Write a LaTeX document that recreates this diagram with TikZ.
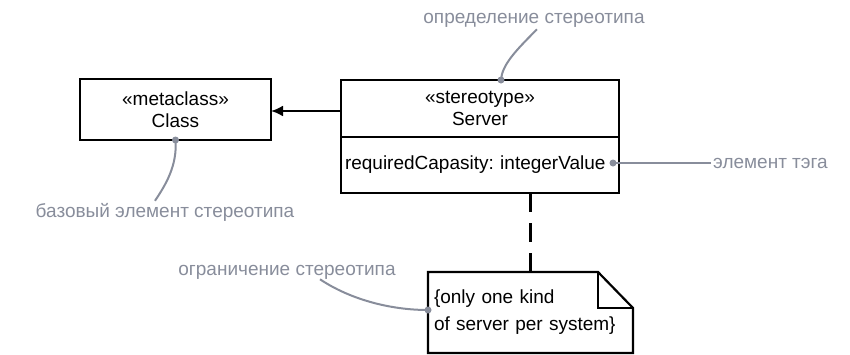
\documentclass[tikz,border=0pt]{standalone}
\usepackage{fontspec}
\setmainfont{Liberation Sans}
\frenchspacing
\usetikzlibrary{positioning,arrows.meta}
\definecolor{remarkgray}{RGB}{136,141,155}
\tikzset{
  umlbox/.style={draw, line width=2.2pt, align=center, inner sep=3pt, outer sep=0pt,
    font=\fontsize{19}{22}\selectfont},
  remark/.style={text=remarkgray, inner sep=2pt, font=\fontsize{19}{22}\selectfont},
  remarkline/.style={draw=remarkgray, line width=2pt},
  remarkdot/.style={fill=remarkgray}
}
\begin{document}
\begin{tikzpicture}[x=1pt,y=-1pt]
            \useasboundingbox (0,0) rectangle (850,354);

            % Třídy
            \node[umlbox, minimum width=191, minimum height=61] (metaclass) at (175.5,109.5) {«metaclass»\\Class};
            \node[umlbox, minimum width=278, minimum height=57] (stereohead) at (480,108.5) {«stereotype»\\Server};
            \node[umlbox, minimum width=278, minimum height=56, anchor=north, align=left, text width=270] (stereoattr) at (stereohead.south) {requiredCapasity: integerValue};

            % Poznámka
            \node[minimum width=205, minimum height=81, inner sep=6pt, outer sep=0pt, align=left, text width=193,
                  font=\fontsize{19}{27}\selectfont] (constraint) at (530.5,312.5) {\{only one kind\\of server per system\}};
            \draw[line width=2.2pt] (constraint.north west) -- ([xshift=-35pt]constraint.north east)
                -- ([yshift=-36pt]constraint.north east) -- (constraint.south east) -- (constraint.south west) -- cycle;
            \draw[line width=2.2pt] ([xshift=-35pt]constraint.north east) |- ([yshift=-36pt]constraint.north east);

            % Spojnice
            \draw[line width=2.2pt, -{Latex[length=12pt,width=11pt]}] ([yshift=-2.5pt]stereohead.west) -- ([yshift=-2.5pt]stereohead.west -| metaclass.east);
            \draw[line width=2.2pt, dash pattern=on 19pt off 11pt] (stereoattr.south -| constraint.north) -- (constraint.north);

            % Popisky
            \node[remark] (lbldef) at (534,20) {определение стереотипа};
            \node[remark] (lblbase) at (165,212) {базовый элемент стереотипа};
            \node[remark, anchor=west] (lbltag) at (711,163) {элемент тэга};
            \node[remark] (lblconstr) at (287,272) {ограничение стереотипа};

            \coordinate (defpt) at ([xshift=21pt]stereohead.north);
            \coordinate (basept) at (metaclass.south);
            \coordinate (tagpt) at ([xshift=-6pt,yshift=2pt]stereoattr.east);
            \coordinate (constrpt) at ([yshift=2.5pt]constraint.west);

            \draw[remarkline] ([xshift=3pt]lbldef.south) .. controls +(-22,22) and +(1,-15) .. (defpt);
            \draw[remarkline] ([xshift=-10pt]lblbase.north) .. controls +(10,-15) and +(2,26) .. (basept);
            \draw[remarkline] (lbltag.west) -- (tagpt);
            \draw[remarkline] ([xshift=33pt,yshift=2pt]lblconstr.south) .. controls +(30,20) and +(-38,0) .. (constrpt);

            \foreach \p in {defpt, basept, tagpt, constrpt} {
                \fill[remarkdot] (\p) circle (3.5pt);
            }
        \end{tikzpicture}
\end{document}
